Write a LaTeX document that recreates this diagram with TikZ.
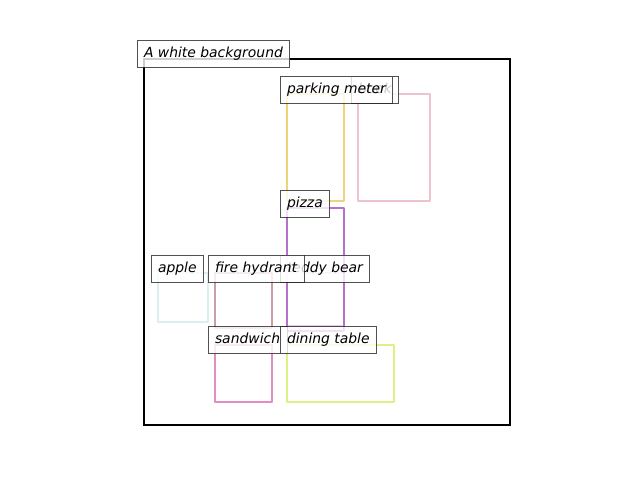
\documentclass[tikz,border=0pt]{standalone}
\usepackage{fontspec}
\setmainfont{DejaVu Sans}
\definecolor{meterc}{RGB}{240,210,120}
\definecolor{bookc}{RGB}{238,196,204}
\definecolor{pizzac}{RGB}{184,112,200}
\definecolor{teddyc}{RGB}{232,204,238}
\definecolor{applec}{RGB}{216,238,240}
\definecolor{hydrantc}{RGB}{200,160,172}
\definecolor{sandwichc}{RGB}{230,140,196}
\definecolor{tablec}{RGB}{220,240,132}
\tikzset{
  objbox/.style={line width=2.3pt,line join=round},
  tagbox/.style={draw=black!85,fill=white,opacity=0.8,text opacity=1,line width=0.9pt,
    anchor=west,inner xsep=7pt,inner ysep=0pt,minimum height=27pt,outer sep=0pt,
    text height=10.2pt,text depth=3.2pt,font=\fontsize{13.9}{16}\selectfont\itshape}
}
\begin{document}
\begin{tikzpicture}[x=1pt,y=-1pt]
\useasboundingbox (0,0) rectangle (640,480);
\draw[line width=2.2pt] (144,59) coordinate (bg-a) rectangle (510,425) coordinate (bg-b);
\foreach \name/\xa/\ya/\xb/\yb/\col in {meter/287/94/344/201/meterc, book/358/94/430/201/bookc,
    teddy/287/273/344/326/teddyc, pizza/287/208/344/331/pizzac, apple/158/273/208/322/applec,
    hydrant/215/273/272/328/hydrantc, sandwich/215/345/272/402/sandwichc,
    table/287/345/394/402/tablec}{
  \draw[objbox,\col] (\xa,\ya) coordinate (\name-a) rectangle (\xb,\yb) coordinate (\name-b);
}
\node[tagbox] (T-bg) at (137,53.5) {A white background};
\node[tagbox] (T-book) at (351,89.5) {book};
\node[tagbox] (T-meter) at (280,89.5) {parking meter};
\node[tagbox] (T-pizza) at (280,203.5) {pizza};
\node[tagbox] (T-apple) at (151,268.5) {apple};
\node[tagbox] (T-teddy) at (280,268.5) {teddy bear};
\node[tagbox] (T-hydrant) at (208,268.5) {fire hydrant};
\node[tagbox] (T-sandwich) at (208,340) {sandwich};
\node[tagbox] (T-table) at (280,340) {dining table};
\end{tikzpicture}
\end{document}
